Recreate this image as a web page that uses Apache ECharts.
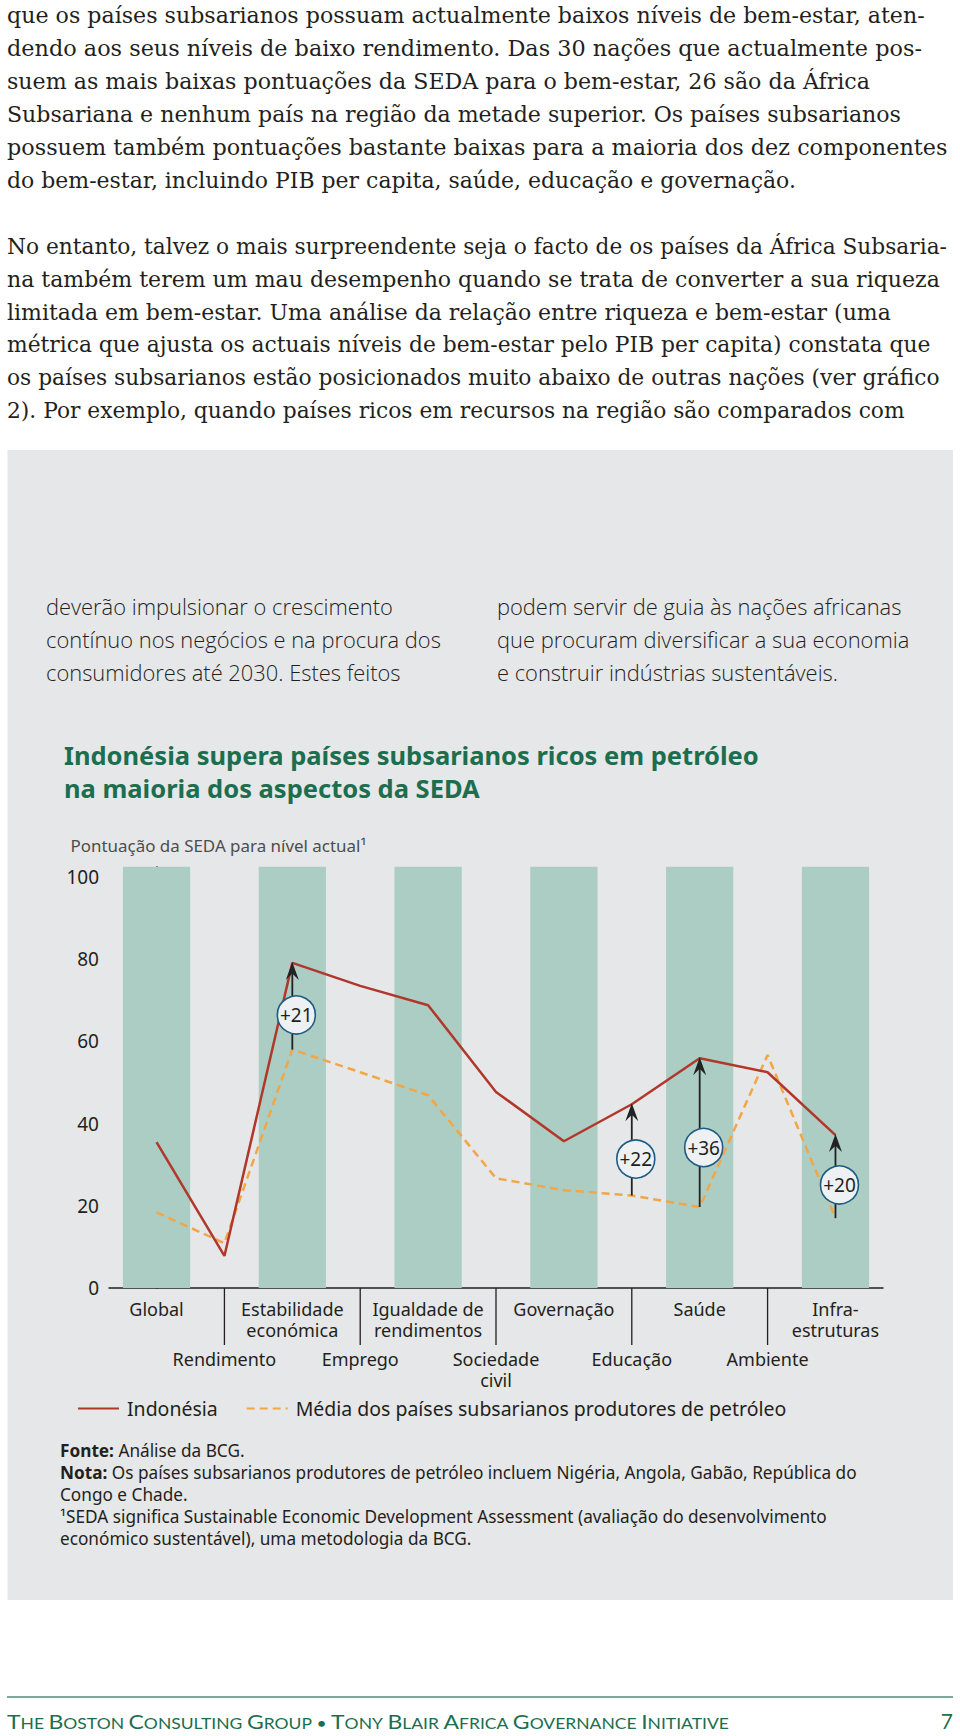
<!DOCTYPE html>
<html>
<head>
<meta charset="utf-8">
<script src="https://cdn.jsdelivr.net/npm/echarts@6/dist/echarts.min.js"></script>
<style>
  html, body { margin: 0; padding: 0; background: #ffffff; }
  #chart { width: 960px; height: 1736px; }
</style>
</head>
<body>
<div id="chart"></div>
<script>
// ---------------- DATA ----------------
const categories = ['Global', 'Rendimento', 'Estabilidade\neconómica', 'Emprego', 'Igualdade de\nrendimentos',
  'Sociedade\ncivil', 'Governação', 'Educação', 'Saúde', 'Ambiente', 'Infra-\nestruturas'];
const indonesia = [35.5, 7.8, 79.1, 73.5, 68.8, 47.7, 35.7, 44.7, 55.9, 52.5, 37.2];
const oilAvg    = [18.4, 10.9, 58.0, 52.5, 46.9, 26.7, 23.8, 22.5, 19.7, 56.7, 17.0];
const bandIndex = [0, 2, 4, 6, 8, 10];
const annotIndex = [2, 7, 8, 10];
const annotLabel = ['+21', '+22', '+36', '+20'];
const seriesNames = ['Indonésia', 'Média dos países subsarianos produtores de petróleo'];

const bodyP1 = [
  'que os países subsarianos possuam actualmente baixos níveis de bem-estar, aten-',
  'dendo aos seus níveis de baixo rendimento. Das 30 nações que actualmente pos-',
  'suem as mais baixas pontuações da SEDA para o bem-estar, 26 são da África',
  'Subsariana e nenhum país na região da metade superior. Os países subsarianos',
  'possuem também pontuações bastante baixas para a maioria dos dez componentes',
  'do bem-estar, incluindo PIB per capita, saúde, educação e governação.'
];
const bodyP2 = [
  'No entanto, talvez o mais surpreendente seja o facto de os países da África Subsaria-',
  'na também terem um mau desempenho quando se trata de converter a sua riqueza',
  'limitada em bem-estar. Uma análise da relação entre riqueza e bem-estar (uma',
  'métrica que ajusta os actuais níveis de bem-estar pelo PIB per capita) constata que',
  'os países subsarianos estão posicionados muito abaixo de outras nações (ver gráfico',
  '2). Por exemplo, quando países ricos em recursos na região são comparados com'
];
const panelLeft = ['deverão impulsionar o crescimento', 'contínuo nos negócios e na procura dos', 'consumidores até 2030. Estes feitos'];
const panelRight = ['podem servir de guia às nações africanas', 'que procuram diversificar a sua economia', 'e construir indústrias sustentáveis.'];
const titleLines = ['Indonésia supera países subsarianos ricos em petróleo', 'na maioria dos aspectos da SEDA'];
const yAxisTitle = 'Pontuação da SEDA para nível actual¹';
const notes = [
  ['Fonte:', ' Análise da BCG.'],
  ['Nota:', ' Os países subsarianos produtores de petróleo incluem Nigéria, Angola, Gabão, República do'],
  ['', 'Congo e Chade.'],
  ['', '¹SEDA significa Sustainable Economic Development Assessment (avaliação do desenvolvimento'],
  ['', 'económico sustentável), uma metodologia da BCG.']
];
const footerText = 'The Boston Consulting Group • Tony Blair Africa Governance Initiative';
const pageNumber = '7';

// ---------------- STYLE / LAYOUT ----------------
// measured line widths (px) of the reference text blocks, used to set horizontal text scaling
const bodyW1 = [918, 915, 863, 894, 941, 789];
const bodyW2 = [941, 933, 884, 924, 933, 898];
const footerW = 722;

const ctx = document.createElement('canvas').getContext('2d');
function measure(text, font) { ctx.font = font; return ctx.measureText(text).width; }
function fit(text, family, weight, target, base) {
  return base * target / measure(text, weight + ' ' + base + 'px ' + family);
}
const SERIF = '"DejaVu Serif", serif';
const SANS = '"Noto Sans", sans-serif';
const LIGHT = '"Open Sans", "Noto Sans", sans-serif';

const bodySize = fit(bodyP1[5], SERIF, 'normal', 789, 20);
const panelSize = fit(panelLeft[1], LIGHT, '300', 395, 20);
const titleSize = fit(titleLines[0], SANS, 'bold', 695, 22);
const yTitleSize = fit('Pontuação da SEDA para nível actual', SANS, 'normal', 290, 16);
const legendSize = fit(seriesNames[1], SANS, 'normal', 491, 16);
const noteSize = fit(notes[1][0] + notes[1][1], SANS, 'normal', 794, 15);

const RED = '#b1372b', ORANGE = '#f2a646', BAND = '#abcdc4', PANEL = '#e6e7e8', GREEN = '#1c6e4e';

const graphics = [];
graphics.push({ type: 'rect', z: -10, shape: { x: 7.5, y: 450, width: 945.5, height: 1150 }, style: { fill: PANEL } });
function addLines(lines, x, y0, step, font, fill, widths) {
  lines.forEach((t, k) => {
    const sx = widths ? widths[k] / measure(t, font) : 1;
    graphics.push({
      type: 'text', x: x, y: y0 + k * step, scaleX: sx,
      style: { text: t, font: font, fill: fill, textAlign: 'left', textVerticalAlign: 'middle' }
    });
  });
}
const bodyFont = bodySize.toFixed(2) + 'px ' + SERIF;
addLines(bodyP1, 7, 15.5, 32.9, bodyFont, '#231f20', bodyW1);
addLines(bodyP2, 7, 246.5, 32.8, bodyFont, '#231f20', bodyW2);
addLines(panelLeft, 46, 606.5, 33, '300 ' + panelSize.toFixed(2) + 'px ' + LIGHT, '#1f1f1f');
addLines(panelRight, 497, 606.5, 33, '300 ' + panelSize.toFixed(2) + 'px ' + LIGHT, '#1f1f1f');
addLines(titleLines, 64, 755, 33, 'bold ' + titleSize.toFixed(2) + 'px ' + SANS, GREEN);
addLines([yAxisTitle], 70.5, 845, 0, yTitleSize.toFixed(2) + 'px ' + SANS, '#4d4d4d');

notes.forEach((n, k) => graphics.push({
  type: 'text', x: 60, y: 1450 + k * 22,
  style: {
    text: (n[0] ? '{b|' + n[0] + '}' : '') + '{r|' + n[1] + '}',
    textAlign: 'left', textVerticalAlign: 'middle',
    rich: {
      b: { fontFamily: SANS, fontSize: noteSize, fontWeight: 'bold', fill: '#231f20', color: '#231f20' },
      r: { fontFamily: SANS, fontSize: noteSize, fill: '#231f20', color: '#231f20' }
    }
  }
}));

// footer
graphics.push({ type: 'line', shape: { x1: 7, y1: 1697, x2: 953, y2: 1697 }, style: { stroke: '#7fa89b', lineWidth: 2 } });
(function () {
  const fam = '"Lato", "Noto Sans", sans-serif';
  const BIG = 19, SMALL = 14.5;
  const parts = footerText.split(' ');
  let s = '', w = 0;
  const spW = measure(' ', SMALL + 'px ' + fam);
  parts.forEach((word, k) => {
    if (k > 0) { s += '{s| }'; w += spW; }
    if (word === '•') { s += '{s|•}'; w += measure('•', SMALL + 'px ' + fam); return; }
    s += '{B|' + word[0] + '}';
    w += measure(word[0], BIG + 'px ' + fam);
    if (word.length > 1) {
      const rest = word.slice(1).toUpperCase();
      s += '{s|' + rest + '}';
      w += measure(rest, SMALL + 'px ' + fam);
    }
  });
  graphics.push({
    type: 'text', x: 7, y: 1731, scaleX: footerW / w,
    style: {
      text: s, textAlign: 'left', textVerticalAlign: 'bottom',
      rich: {
        B: { fontFamily: fam, fontSize: BIG, lineHeight: 19, color: GREEN, fill: GREEN, verticalAlign: 'bottom' },
        s: { fontFamily: fam, fontSize: SMALL, lineHeight: 19, color: GREEN, fill: GREEN, verticalAlign: 'bottom' }
      }
    }
  });
  graphics.push({ type: 'text', x: 953, y: 1731, style: { text: pageNumber, font: '21px ' + fam, fill: GREEN, textAlign: 'right', textVerticalAlign: 'bottom' } });
})();

// ---------------- CHART ----------------
const chart = echarts.init(document.getElementById('chart'), null, { renderer: 'svg', width: 960, height: 1736 });

const option = {
  animation: false,
  backgroundColor: '#ffffff',
  graphic: graphics,
  grid: { left: 109, top: 866.7, width: 774, height: 421.3, containLabel: false, outerBoundsMode: 'none' },
  legend: {
    left: 77, top: 1399, padding: 0, itemWidth: 41, itemHeight: 14, itemGap: 28,
    data: seriesNames,
    itemStyle: { opacity: 0 },
    textStyle: { fontFamily: SANS, fontSize: legendSize, color: '#231f20', padding: [0, 0, 0, 3] }
  },
  xAxis: {
    type: 'value', min: -0.7, max: 10.7,
    axisLine: { show: true, onZero: false, lineStyle: { color: '#231f20', width: 1.5 } },
    axisTick: { show: false }, axisLabel: { show: false }, splitLine: { show: false }
  },
  yAxis: {
    type: 'value', min: 0, max: 102.5, interval: 20,
    axisLine: { show: true, lineStyle: { color: '#231f20', width: 1.5 } },
    axisTick: { show: false }, splitLine: { show: false },
    axisLabel: { showMaxLabel: false, margin: 10, fontFamily: SANS, fontSize: 19, color: '#231f20', padding: [0, 0, 8, 0] }
  },
  series: [
    {
      type: 'custom', name: 'bands', silent: true, z: 1,
      data: bandIndex.map(i => [i, 102.5]),
      renderItem: function (params, api) {
        const i = api.value(0);
        const p0 = api.coord([i - 0.495, 0]);
        const p1 = api.coord([i + 0.495, api.value(1)]);
        return { type: 'rect', shape: { x: p0[0], y: p1[1], width: p1[0] - p0[0], height: p0[1] - p1[1] }, style: { fill: BAND } };
      }
    },
    {
      type: 'line', name: seriesNames[0], z: 4, symbol: 'none',
      data: indonesia.map((v, i) => [i, v]),
      color: RED,
      lineStyle: { color: RED, width: 2.5 }
    },
    {
      type: 'line', name: seriesNames[1], z: 3, symbol: 'none',
      data: oilAvg.map((v, i) => [i, v]),
      color: ORANGE,
      lineStyle: { color: ORANGE, width: 2.5, type: [8, 5] }
    },
    {
      type: 'custom', name: 'gaps', z: 6, clip: false, silent: true,
      data: annotIndex.map(i => [i, oilAvg[i], indonesia[i]]),
      renderItem: function (params, api) {
        const i = api.value(0);
        const a = api.coord([i, api.value(1)]);
        const b = api.coord([i, api.value(2)]);
        const head = 17, hw = 6.5;
        const cx = a[0] + 4, cy = a[1] + (b[1] - a[1]) * 0.4;
        return {
          type: 'group', children: [
            { type: 'line', shape: { x1: a[0], y1: a[1], x2: b[0], y2: b[1] + head * 0.6 }, style: { stroke: '#222', lineWidth: 1.8 } },
            { type: 'polygon', shape: { points: [[b[0], b[1] - 1], [b[0] - hw, b[1] + head], [b[0], b[1] + head * 0.62], [b[0] + hw, b[1] + head]] }, style: { fill: '#222' } },
            { type: 'circle', shape: { cx: cx, cy: cy, r: 19 }, style: { fill: '#eef1f3', stroke: '#1f5b82', lineWidth: 1.6 } },
            { type: 'text', style: { text: annotLabel[params.dataIndex], x: cx, y: cy, textAlign: 'center', textVerticalAlign: 'middle', font: '19px ' + SANS, fill: '#231f20' } }
          ]
        };
      }
    },
    {
      type: 'custom', name: 'categoryLabels', z: 5, clip: false, silent: true,
      data: categories.map((c, i) => [i, 0]),
      renderItem: function (params, api) {
        const i = api.value(0);
        const p = api.coord([i, 0]);
        const odd = i % 2 === 1;
        const kids = [];
        if (odd) {
          kids.push({ type: 'line', shape: { x1: p[0], y1: p[1], x2: p[0], y2: p[1] + 57 }, style: { stroke: '#231f20', lineWidth: 1.3 } });
        }
        kids.push({
          type: 'text', style: {
            text: categories[params.dataIndex], x: p[0], y: p[1] + (odd ? 60 : 10),
            textAlign: 'center', textVerticalAlign: 'top',
            font: '18px ' + SANS, lineHeight: 21, fill: '#231f20'
          }
        });
        return { type: 'group', children: kids };
      }
    }
  ]
};
chart.setOption(option);
</script>
</body>
</html>
